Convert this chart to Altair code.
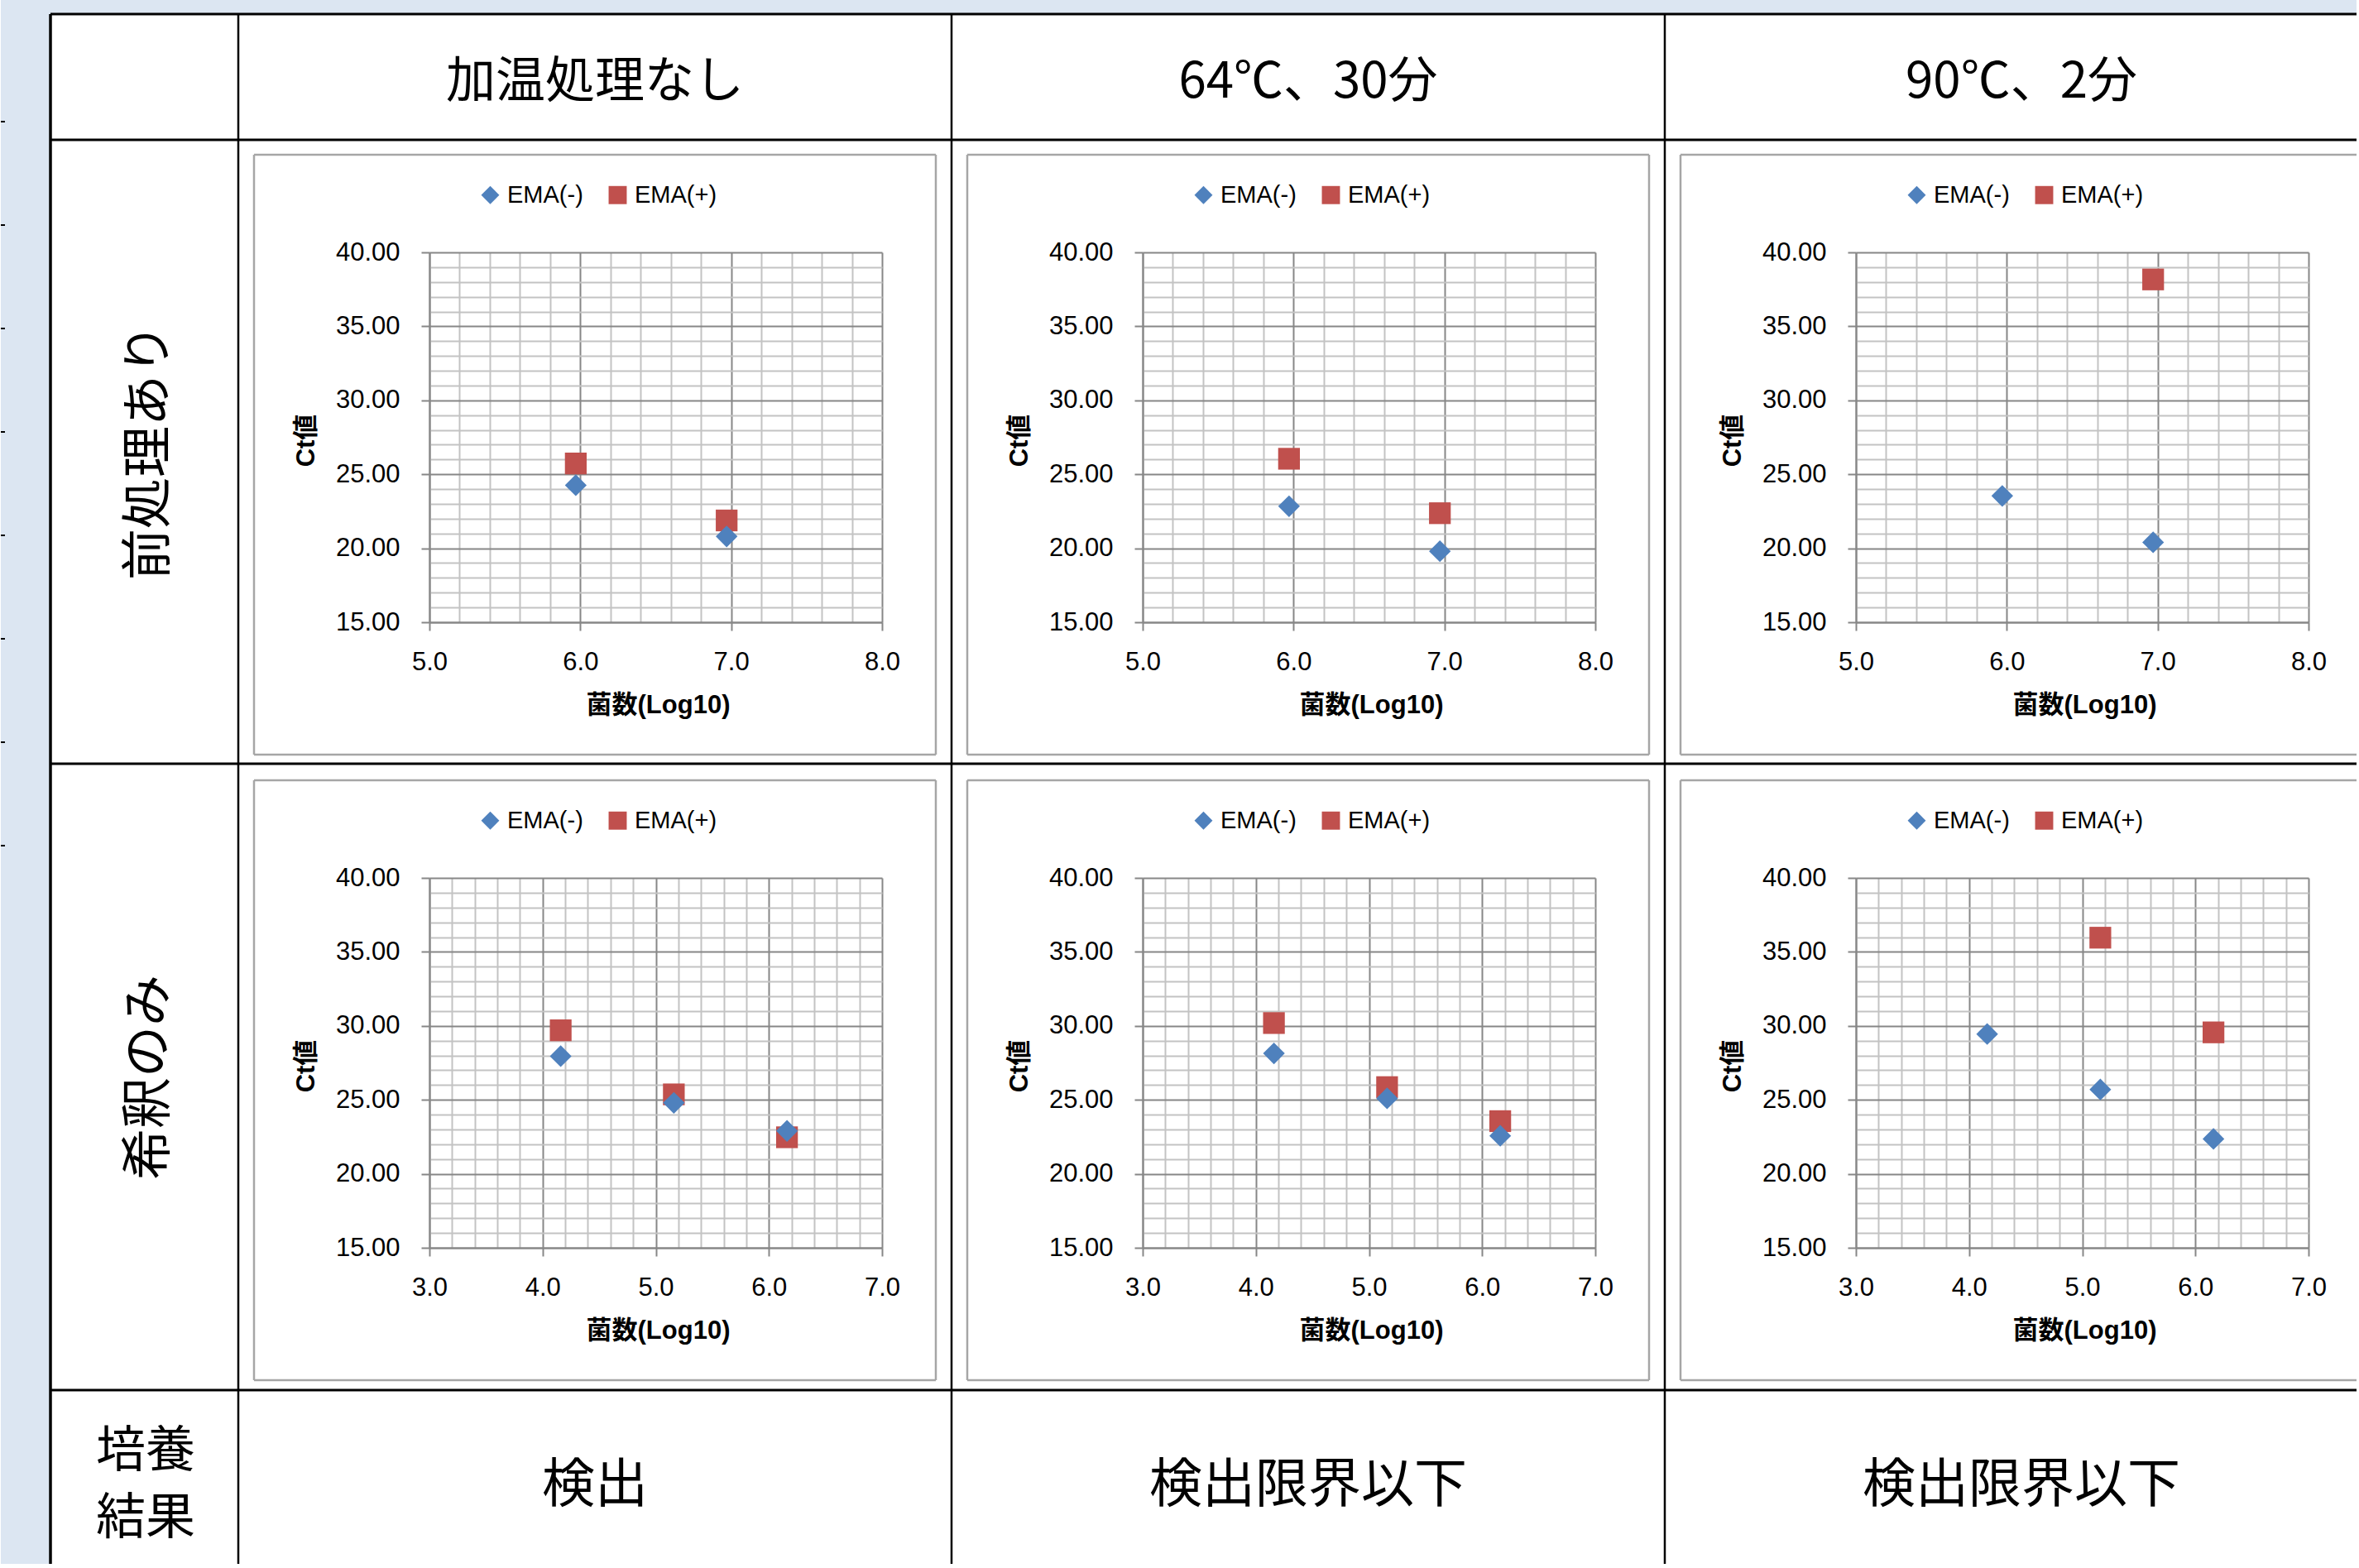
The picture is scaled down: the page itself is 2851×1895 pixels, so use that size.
import altair as alt
import pandas as pd

# ---- table text -----------------------------------------------------------
HEAT_LABELS = ["加温処理なし", "64℃、30分", "90℃、2分"]
ROW_LABELS = ["前処理あり", "希釈のみ"]
CULTURE_TITLE = ["培養", "結果"]
CULTURE_RESULTS = ["検出", "検出限界以下", "検出限界以下"]
SERIES = ["EMA(-)", "EMA(+)"]

# ---- data -------------------------------------------------------------------
# log10 cell counts used in each row of panels
LOG_COUNTS_PRETREATED = [5.97, 6.97]
LOG_COUNTS_DILUTED = [4.16, 5.16, 6.16]

# Ct values per heating condition (None = no signal)
CT_PRETREATED_MINUS = [[24.26, 20.80], [22.84, 19.80], [23.54, 20.40]]
CT_PRETREATED_PLUS = [[25.73, 21.88], [26.05, 22.37], [None, 38.17]]
CT_DILUTED_MINUS = [[27.95, 24.80, 22.90], [28.14, 25.10, 22.57], [29.45, 25.70, 22.36]]
CT_DILUTED_PLUS = [[29.70, 25.37, 22.47], [30.19, 25.86, 23.56], [None, 35.96, 29.56]]

X_DOMAINS = [[5.0, 8.0], [3.0, 7.0]]
Y_DOMAIN = [15.0, 40.0]
Y_GRID = list(range(15, 41))

# ---- styling ----------------------------------------------------------------
BLUE = "#4F81BD"
RED = "#C0504D"
GRID_MAJOR = "#878787"
GRID_MINOR = "#C3C3C3"
FRAME = "#A6A6A6"
PAGE_BG = "#DCE6F2"
LATIN = "Liberation Sans, Noto Sans CJK JP"
CJK = "Noto Sans CJK JP"

PLOT_W, PLOT_H = 547, 447
COL_STEP, ROW_STEP = 862, 756

ONE = pd.DataFrame({"k": [0]})

MAJOR_X = "abs(datum.value - round(datum.value)) < 0.001"
MAJOR_Y = "abs(datum.value / 5 - round(datum.value / 5)) < 0.001"


def x_grid(lo, hi):
    n = int(round((hi - lo) / 0.2))
    return [round(lo + 0.2 * i, 1) for i in range(n + 1)]


def rule(x, y, x2=None, y2=None, color="black", width=3):
    enc = dict(x=alt.value(x), y=alt.value(y))
    if x2 is not None:
        enc["x2"] = alt.value(x2)
    if y2 is not None:
        enc["y2"] = alt.value(y2)
    return alt.Chart(ONE).mark_rule(color=color, strokeWidth=width, strokeCap="butt").encode(**enc)


def box(x, x2, y, y2, color):
    return alt.Chart(ONE).mark_rect(color=color).encode(
        x=alt.value(x), x2=alt.value(x2), y=alt.value(y), y2=alt.value(y2)
    )


def label(text, x, y, size=60, angle=0):
    return alt.Chart(ONE).mark_text(
        text=text, font=CJK, fontSize=size, angle=angle,
        align="center", baseline="middle", color="black",
    ).encode(x=alt.value(x), y=alt.value(y))


def table_layers():
    """Sheet background, table grid and cell text, placed from the first panel's origin."""
    ox, oy = 518, 305
    layers = [
        box(-ox, -ox + 60, -oy, 1585, PAGE_BG),
        box(-ox, 2329, -oy, -oy + 17, PAGE_BG),
    ]
    # small sheet-edge marks in the left margin
    for k in range(8):
        yy = 147 + 125 * k - oy
        layers.append(rule(-ox, yy, x2=-ox + 5, color="black", width=2))
    for yy in [17, 169, 923, 1680]:
        layers.append(rule(60 - ox, yy - oy, x2=2847 - ox, width=3))
    for xx in [60, 287, 1149, 2011]:
        layers.append(rule(xx - ox, 17 - oy, y2=1890 - oy, width=2.5 if xx > 60 else 3.5))
    for c, txt in enumerate(HEAT_LABELS):
        layers.append(label(txt, 718 + COL_STEP * c - ox, 100 - oy, size=60))
    for r, txt in enumerate(ROW_LABELS):
        layers.append(label(txt, 180 - ox, 546 + ROW_STEP * r - oy, size=62, angle=270))
    layers.append(label(CULTURE_TITLE[0], 175 - ox, 1755 - oy, size=60))
    layers.append(label(CULTURE_TITLE[1], 175 - ox, 1836 - oy, size=60))
    for c, txt in enumerate(CULTURE_RESULTS):
        layers.append(label(txt, 718 + COL_STEP * c - ox, 1796 - oy, size=64))
    return layers


def frame_layers(last_col):
    left, top, right, bottom = -212, -118, 612, 607
    if last_col:
        right = 605
    layers = [
        rule(left, top, x2=right, color=FRAME, width=2.5),
        rule(left, bottom, x2=right, color=FRAME, width=2.5),
        rule(left, top, y2=bottom, color=FRAME, width=2.5),
    ]
    if not last_col:
        layers.append(rule(right, top, y2=bottom, color=FRAME, width=2.5))
    return layers


def panel(r, c):
    xs = LOG_COUNTS_PRETREATED if r == 0 else LOG_COUNTS_DILUTED
    minus = (CT_PRETREATED_MINUS if r == 0 else CT_DILUTED_MINUS)[c]
    plus = (CT_PRETREATED_PLUS if r == 0 else CT_DILUTED_PLUS)[c]
    rows = []
    for name, vals in zip(SERIES, [minus, plus]):
        for x, v in zip(xs, vals):
            if v is not None:
                rows.append({"log": x, "ct": v, "series": name})
    df = pd.DataFrame(rows)

    lo, hi = X_DOMAINS[r]
    x_axis = alt.Axis(
        values=x_grid(lo, hi),
        title="菌数(Log10)",
        labelExpr=f"{MAJOR_X} ? format(datum.value, '.1f') : ''",
        labelOverlap=False, labelFlush=False, labelPadding=23,
        grid=True,
        gridColor={"condition": {"test": MAJOR_X, "value": GRID_MAJOR}, "value": GRID_MINOR},
        tickColor={"condition": {"test": MAJOR_X, "value": GRID_MAJOR}, "value": "transparent"},
        titleX=276, titleY=100, titleBaseline="middle", titleAlign="center",
    )
    y_axis = alt.Axis(
        values=Y_GRID,
        title="Ct値",
        labelExpr=f"{MAJOR_Y} ? format(datum.value, '.2f') : ''",
        labelOverlap=False, labelFlush=False, labelPadding=26,
        grid=True,
        gridColor={"condition": {"test": MAJOR_Y, "value": GRID_MAJOR}, "value": GRID_MINOR},
        tickColor={"condition": {"test": MAJOR_Y, "value": GRID_MAJOR}, "value": "transparent"},
        titleAngle=270, titleX=-149, titleY=227, titleBaseline="middle", titleAlign="center",
    )
    legend = alt.Legend(
        title=None, orient="none", legendX=59, legendY=-84, direction="horizontal",
        labelFont=LATIN, labelFontSize=29, labelColor="black", labelOffset=6,
        symbolSize=480, symbolStrokeWidth=0, columnPadding=27, padding=0,
    )
    points = alt.Chart(df).mark_point(filled=True, size=690, opacity=1).encode(
        x=alt.X("log:Q", scale=alt.Scale(domain=[lo, hi], nice=False, zero=False), axis=x_axis),
        y=alt.Y("ct:Q", scale=alt.Scale(domain=Y_DOMAIN, nice=False, zero=False), axis=y_axis),
        color=alt.Color("series:N", scale=alt.Scale(domain=SERIES, range=[BLUE, RED]), legend=legend),
        shape=alt.Shape("series:N", scale=alt.Scale(domain=SERIES, range=["diamond", "square"]), legend=legend),
        order=alt.Order("series:N"),
    )
    layers = []
    if r == 0 and c == 0:
        layers += table_layers()
    layers += frame_layers(c == 2)
    layers.append(points)
    return alt.layer(*layers).properties(width=PLOT_W, height=PLOT_H)


panels = [panel(r, c) for r in range(2) for c in range(3)]

chart = (
    alt.concat(*panels, columns=3, spacing={"row": 309, "column": 315}, bounds="flush")
    .resolve_scale(x="independent", y="independent", color="independent", shape="independent")
    .resolve_axis(x="independent", y="independent")
    .resolve_legend(color="independent", shape="independent")
    .configure(background="white", padding=0)
    .configure_view(stroke=None)
    .configure_axis(
        labelFont=LATIN, labelFontSize=31, labelColor="black",
        titleFont=LATIN, titleFontSize=31, titleFontWeight="bold", titleColor="black",
        gridWidth=2, tickSize=10, tickWidth=2,
        domainColor=GRID_MAJOR, domainWidth=2,
    )
)

chart.save("out.html", embed_options={"renderer": "svg", "actions": False})
